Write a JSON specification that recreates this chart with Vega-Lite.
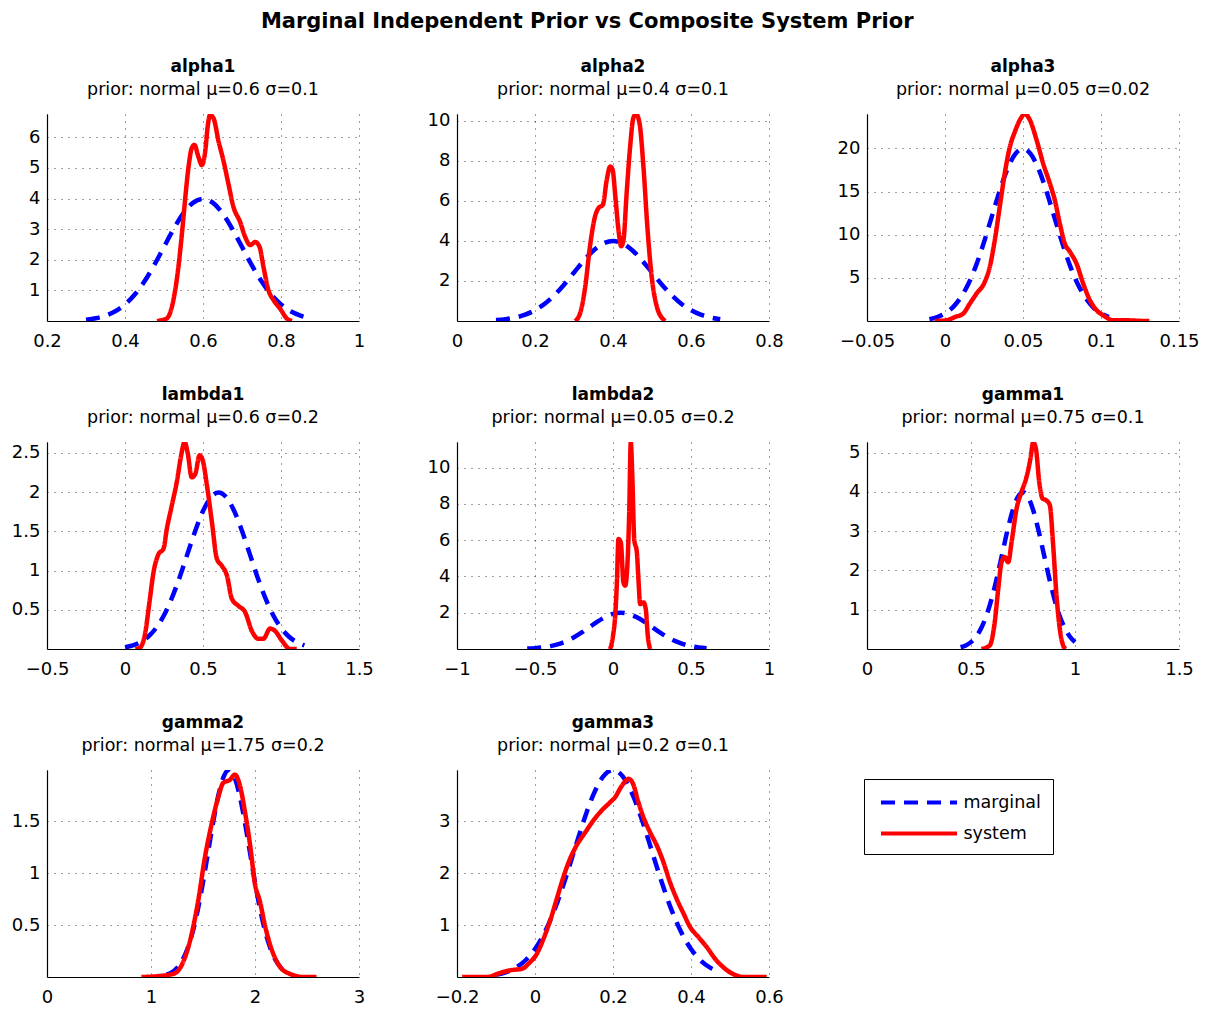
{
  "$schema": "https://vega.github.io/schema/vega-lite/v6.json",
  "padding": {"left": 11, "top": 10, "right": 5, "bottom": 5},
  "background": "white",
  "bounds": "flush",
  "title": {"text": "Marginal Independent Prior vs Composite System Prior", "fontSize": 21, "fontWeight": "bold", "font": "DejaVu Sans", "anchor": "middle", "dx": -18, "offset": 26, "color": "#000"},
  "datasets": {
    "alpha1": [
      {"series": "marginal", "x": 0.3, "y": 0.044}, {"series": "marginal", "x": 0.325, "y": 0.091}, {"series": "marginal", "x": 0.35, "y": 0.175}, {"series": "marginal", "x": 0.375, "y": 0.318}, {"series": "marginal", "x": 0.4, "y": 0.54}, {"series": "marginal", "x": 0.425, "y": 0.863}, {"series": "marginal", "x": 0.45, "y": 1.295}, {"series": "marginal", "x": 0.475, "y": 1.826}, {"series": "marginal", "x": 0.5, "y": 2.42}, {"series": "marginal", "x": 0.525, "y": 3.011}, {"series": "marginal", "x": 0.55, "y": 3.52}, {"series": "marginal", "x": 0.575, "y": 3.866}, {"series": "marginal", "x": 0.6, "y": 3.989}, {"series": "marginal", "x": 0.625, "y": 3.866}, {"series": "marginal", "x": 0.65, "y": 3.52}, {"series": "marginal", "x": 0.675, "y": 3.011}, {"series": "marginal", "x": 0.7, "y": 2.42}, {"series": "marginal", "x": 0.725, "y": 1.826}, {"series": "marginal", "x": 0.75, "y": 1.295}, {"series": "marginal", "x": 0.775, "y": 0.863}, {"series": "marginal", "x": 0.8, "y": 0.54}, {"series": "marginal", "x": 0.825, "y": 0.318}, {"series": "marginal", "x": 0.85, "y": 0.175}, {"series": "marginal", "x": 0.875, "y": 0.091},
      {"series": "system", "x": 0.482, "y": 0}, {"series": "system", "x": 0.507, "y": 0.08}, {"series": "system", "x": 0.524, "y": 0.68}, {"series": "system", "x": 0.537, "y": 1.77}, {"series": "system", "x": 0.546, "y": 2.86}, {"series": "system", "x": 0.554, "y": 3.95}, {"series": "system", "x": 0.563, "y": 5.04}, {"series": "system", "x": 0.571, "y": 5.64}, {"series": "system", "x": 0.578, "y": 5.75}, {"series": "system", "x": 0.588, "y": 5.37}, {"series": "system", "x": 0.597, "y": 5.09}, {"series": "system", "x": 0.606, "y": 5.58}, {"series": "system", "x": 0.612, "y": 6.35}, {"series": "system", "x": 0.618, "y": 6.73}, {"series": "system", "x": 0.627, "y": 6.62}, {"series": "system", "x": 0.64, "y": 5.86}, {"series": "system", "x": 0.652, "y": 5.26}, {"series": "system", "x": 0.665, "y": 4.49}, {"series": "system", "x": 0.678, "y": 3.73}, {"series": "system", "x": 0.695, "y": 3.24}, {"series": "system", "x": 0.708, "y": 2.75}, {"series": "system", "x": 0.721, "y": 2.48}, {"series": "system", "x": 0.734, "y": 2.58}, {"series": "system", "x": 0.745, "y": 2.42}, {"series": "system", "x": 0.755, "y": 1.77}, {"series": "system", "x": 0.768, "y": 1.0}, {"series": "system", "x": 0.781, "y": 0.68}, {"series": "system", "x": 0.798, "y": 0.4}, {"series": "system", "x": 0.815, "y": 0.08}, {"series": "system", "x": 0.828, "y": 0}
    ],
    "alpha2": [
      {"series": "marginal", "x": 0.1, "y": 0.044}, {"series": "marginal", "x": 0.125, "y": 0.091}, {"series": "marginal", "x": 0.15, "y": 0.175}, {"series": "marginal", "x": 0.175, "y": 0.318}, {"series": "marginal", "x": 0.2, "y": 0.54}, {"series": "marginal", "x": 0.225, "y": 0.863}, {"series": "marginal", "x": 0.25, "y": 1.295}, {"series": "marginal", "x": 0.275, "y": 1.826}, {"series": "marginal", "x": 0.3, "y": 2.42}, {"series": "marginal", "x": 0.325, "y": 3.011}, {"series": "marginal", "x": 0.35, "y": 3.52}, {"series": "marginal", "x": 0.375, "y": 3.866}, {"series": "marginal", "x": 0.4, "y": 3.989}, {"series": "marginal", "x": 0.425, "y": 3.866}, {"series": "marginal", "x": 0.45, "y": 3.52}, {"series": "marginal", "x": 0.475, "y": 3.011}, {"series": "marginal", "x": 0.5, "y": 2.42}, {"series": "marginal", "x": 0.525, "y": 1.826}, {"series": "marginal", "x": 0.55, "y": 1.295}, {"series": "marginal", "x": 0.575, "y": 0.863}, {"series": "marginal", "x": 0.6, "y": 0.54}, {"series": "marginal", "x": 0.625, "y": 0.318}, {"series": "marginal", "x": 0.65, "y": 0.175}, {"series": "marginal", "x": 0.675, "y": 0.091},
      {"series": "system", "x": 0.303, "y": 0}, {"series": "system", "x": 0.316, "y": 0.41}, {"series": "system", "x": 0.329, "y": 1.74}, {"series": "system", "x": 0.341, "y": 3.73}, {"series": "system", "x": 0.354, "y": 5.22}, {"series": "system", "x": 0.363, "y": 5.64}, {"series": "system", "x": 0.374, "y": 5.8}, {"series": "system", "x": 0.384, "y": 7.05}, {"series": "system", "x": 0.393, "y": 7.71}, {"series": "system", "x": 0.399, "y": 7.55}, {"series": "system", "x": 0.406, "y": 6.22}, {"series": "system", "x": 0.414, "y": 4.56}, {"series": "system", "x": 0.421, "y": 3.73}, {"series": "system", "x": 0.427, "y": 4.06}, {"series": "system", "x": 0.435, "y": 6.38}, {"series": "system", "x": 0.444, "y": 8.71}, {"series": "system", "x": 0.452, "y": 10.12}, {"series": "system", "x": 0.459, "y": 10.33}, {"series": "system", "x": 0.468, "y": 9.87}, {"series": "system", "x": 0.478, "y": 7.71}, {"series": "system", "x": 0.488, "y": 4.73}, {"series": "system", "x": 0.499, "y": 2.24}, {"series": "system", "x": 0.512, "y": 0.75}, {"series": "system", "x": 0.529, "y": 0.08}, {"series": "system", "x": 0.534, "y": 0}
    ],
    "alpha3": [
      {"series": "marginal", "x": -0.01, "y": 0.221}, {"series": "marginal", "x": -0.005, "y": 0.455}, {"series": "marginal", "x": 0, "y": 0.876}, {"series": "marginal", "x": 0.005, "y": 1.588}, {"series": "marginal", "x": 0.01, "y": 2.699}, {"series": "marginal", "x": 0.015, "y": 4.315}, {"series": "marginal", "x": 0.02, "y": 6.477}, {"series": "marginal", "x": 0.025, "y": 9.132}, {"series": "marginal", "x": 0.03, "y": 12.098}, {"series": "marginal", "x": 0.035, "y": 15.056}, {"series": "marginal", "x": 0.04, "y": 17.603}, {"series": "marginal", "x": 0.045, "y": 19.333}, {"series": "marginal", "x": 0.05, "y": 19.947}, {"series": "marginal", "x": 0.055, "y": 19.333}, {"series": "marginal", "x": 0.06, "y": 17.603}, {"series": "marginal", "x": 0.065, "y": 15.056}, {"series": "marginal", "x": 0.07, "y": 12.098}, {"series": "marginal", "x": 0.075, "y": 9.132}, {"series": "marginal", "x": 0.08, "y": 6.477}, {"series": "marginal", "x": 0.085, "y": 4.315}, {"series": "marginal", "x": 0.09, "y": 2.699}, {"series": "marginal", "x": 0.095, "y": 1.588}, {"series": "marginal", "x": 0.1, "y": 0.876}, {"series": "marginal", "x": 0.105, "y": 0.455},
      {"series": "system", "x": -0.0066, "y": 0}, {"series": "system", "x": 0.0009, "y": 0.08}, {"series": "system", "x": 0.0063, "y": 0.46}, {"series": "system", "x": 0.0116, "y": 0.85}, {"series": "system", "x": 0.0159, "y": 2.01}, {"series": "system", "x": 0.0202, "y": 3.17}, {"series": "system", "x": 0.0255, "y": 4.53}, {"series": "system", "x": 0.0287, "y": 6.27}, {"series": "system", "x": 0.0319, "y": 9.36}, {"series": "system", "x": 0.0351, "y": 13.23}, {"series": "system", "x": 0.0383, "y": 17.1}, {"series": "system", "x": 0.0416, "y": 20.19}, {"series": "system", "x": 0.0448, "y": 21.93}, {"series": "system", "x": 0.048, "y": 23.29}, {"series": "system", "x": 0.0512, "y": 23.98}, {"series": "system", "x": 0.0544, "y": 23.29}, {"series": "system", "x": 0.0587, "y": 20.97}, {"series": "system", "x": 0.0629, "y": 18.26}, {"series": "system", "x": 0.0672, "y": 15.94}, {"series": "system", "x": 0.0704, "y": 14.0}, {"series": "system", "x": 0.0736, "y": 11.3}, {"series": "system", "x": 0.0768, "y": 8.97}, {"series": "system", "x": 0.0801, "y": 8.01}, {"series": "system", "x": 0.0843, "y": 6.65}, {"series": "system", "x": 0.0886, "y": 4.33}, {"series": "system", "x": 0.0929, "y": 2.4}, {"series": "system", "x": 0.0972, "y": 1.24}, {"series": "system", "x": 0.1014, "y": 0.66}, {"series": "system", "x": 0.1079, "y": 0.08}, {"series": "system", "x": 0.1164, "y": 0.08}, {"series": "system", "x": 0.125, "y": 0.02}, {"series": "system", "x": 0.131, "y": 0}
    ],
    "lambda1": [
      {"series": "marginal", "x": 0, "y": 0.022}, {"series": "marginal", "x": 0.05, "y": 0.045}, {"series": "marginal", "x": 0.1, "y": 0.088}, {"series": "marginal", "x": 0.15, "y": 0.159}, {"series": "marginal", "x": 0.2, "y": 0.27}, {"series": "marginal", "x": 0.25, "y": 0.431}, {"series": "marginal", "x": 0.3, "y": 0.648}, {"series": "marginal", "x": 0.35, "y": 0.913}, {"series": "marginal", "x": 0.4, "y": 1.21}, {"series": "marginal", "x": 0.45, "y": 1.506}, {"series": "marginal", "x": 0.5, "y": 1.76}, {"series": "marginal", "x": 0.55, "y": 1.933}, {"series": "marginal", "x": 0.6, "y": 1.995}, {"series": "marginal", "x": 0.65, "y": 1.933}, {"series": "marginal", "x": 0.7, "y": 1.76}, {"series": "marginal", "x": 0.75, "y": 1.506}, {"series": "marginal", "x": 0.8, "y": 1.21}, {"series": "marginal", "x": 0.85, "y": 0.913}, {"series": "marginal", "x": 0.9, "y": 0.648}, {"series": "marginal", "x": 0.95, "y": 0.431}, {"series": "marginal", "x": 1.0, "y": 0.27}, {"series": "marginal", "x": 1.05, "y": 0.159}, {"series": "marginal", "x": 1.1, "y": 0.088}, {"series": "marginal", "x": 1.15, "y": 0.045},
      {"series": "system", "x": 0.066, "y": 0}, {"series": "system", "x": 0.098, "y": 0.02}, {"series": "system", "x": 0.13, "y": 0.21}, {"series": "system", "x": 0.157, "y": 0.6}, {"series": "system", "x": 0.183, "y": 0.98}, {"series": "system", "x": 0.215, "y": 1.21}, {"series": "system", "x": 0.247, "y": 1.28}, {"series": "system", "x": 0.268, "y": 1.53}, {"series": "system", "x": 0.3, "y": 1.83}, {"series": "system", "x": 0.332, "y": 2.13}, {"series": "system", "x": 0.36, "y": 2.47}, {"series": "system", "x": 0.382, "y": 2.64}, {"series": "system", "x": 0.401, "y": 2.51}, {"series": "system", "x": 0.428, "y": 2.19}, {"series": "system", "x": 0.45, "y": 2.23}, {"series": "system", "x": 0.478, "y": 2.47}, {"series": "system", "x": 0.499, "y": 2.4}, {"series": "system", "x": 0.525, "y": 2.09}, {"series": "system", "x": 0.557, "y": 1.62}, {"series": "system", "x": 0.589, "y": 1.15}, {"series": "system", "x": 0.621, "y": 1.06}, {"series": "system", "x": 0.653, "y": 0.94}, {"series": "system", "x": 0.685, "y": 0.64}, {"series": "system", "x": 0.727, "y": 0.55}, {"series": "system", "x": 0.77, "y": 0.47}, {"series": "system", "x": 0.813, "y": 0.23}, {"series": "system", "x": 0.855, "y": 0.13}, {"series": "system", "x": 0.887, "y": 0.13}, {"series": "system", "x": 0.93, "y": 0.26}, {"series": "system", "x": 0.962, "y": 0.23}, {"series": "system", "x": 1.005, "y": 0.11}, {"series": "system", "x": 1.058, "y": 0}, {"series": "system", "x": 1.101, "y": 0}
    ],
    "lambda2": [
      {"series": "marginal", "x": -0.55, "y": 0.022}, {"series": "marginal", "x": -0.5, "y": 0.045}, {"series": "marginal", "x": -0.45, "y": 0.088}, {"series": "marginal", "x": -0.4, "y": 0.159}, {"series": "marginal", "x": -0.35, "y": 0.27}, {"series": "marginal", "x": -0.3, "y": 0.431}, {"series": "marginal", "x": -0.25, "y": 0.648}, {"series": "marginal", "x": -0.2, "y": 0.913}, {"series": "marginal", "x": -0.15, "y": 1.21}, {"series": "marginal", "x": -0.1, "y": 1.506}, {"series": "marginal", "x": -0.05, "y": 1.76}, {"series": "marginal", "x": 0, "y": 1.933}, {"series": "marginal", "x": 0.05, "y": 1.995}, {"series": "marginal", "x": 0.1, "y": 1.933}, {"series": "marginal", "x": 0.15, "y": 1.76}, {"series": "marginal", "x": 0.2, "y": 1.506}, {"series": "marginal", "x": 0.25, "y": 1.21}, {"series": "marginal", "x": 0.3, "y": 0.913}, {"series": "marginal", "x": 0.35, "y": 0.648}, {"series": "marginal", "x": 0.4, "y": 0.431}, {"series": "marginal", "x": 0.45, "y": 0.27}, {"series": "marginal", "x": 0.5, "y": 0.159}, {"series": "marginal", "x": 0.55, "y": 0.088}, {"series": "marginal", "x": 0.6, "y": 0.045},
      {"series": "system", "x": -0.018, "y": 0}, {"series": "system", "x": 0.0, "y": 0.73}, {"series": "system", "x": 0.014, "y": 1.83}, {"series": "system", "x": 0.025, "y": 3.67}, {"series": "system", "x": 0.035, "y": 6.06}, {"series": "system", "x": 0.05, "y": 5.87}, {"series": "system", "x": 0.067, "y": 3.67}, {"series": "system", "x": 0.078, "y": 3.49}, {"series": "system", "x": 0.093, "y": 4.77}, {"series": "system", "x": 0.104, "y": 7.53}, {"series": "system", "x": 0.114, "y": 11.41}, {"series": "system", "x": 0.125, "y": 9.17}, {"series": "system", "x": 0.136, "y": 6.06}, {"series": "system", "x": 0.153, "y": 5.32}, {"series": "system", "x": 0.163, "y": 3.85}, {"series": "system", "x": 0.174, "y": 2.48}, {"series": "system", "x": 0.195, "y": 2.57}, {"series": "system", "x": 0.21, "y": 2.2}, {"series": "system", "x": 0.223, "y": 0.73}, {"series": "system", "x": 0.238, "y": 0}
    ],
    "gamma1": [
      {"series": "marginal", "x": 0.45, "y": 0.044}, {"series": "marginal", "x": 0.475, "y": 0.091}, {"series": "marginal", "x": 0.5, "y": 0.175}, {"series": "marginal", "x": 0.525, "y": 0.318}, {"series": "marginal", "x": 0.55, "y": 0.54}, {"series": "marginal", "x": 0.575, "y": 0.863}, {"series": "marginal", "x": 0.6, "y": 1.295}, {"series": "marginal", "x": 0.625, "y": 1.826}, {"series": "marginal", "x": 0.65, "y": 2.42}, {"series": "marginal", "x": 0.675, "y": 3.011}, {"series": "marginal", "x": 0.7, "y": 3.52}, {"series": "marginal", "x": 0.725, "y": 3.866}, {"series": "marginal", "x": 0.75, "y": 3.989}, {"series": "marginal", "x": 0.775, "y": 3.866}, {"series": "marginal", "x": 0.8, "y": 3.52}, {"series": "marginal", "x": 0.825, "y": 3.011}, {"series": "marginal", "x": 0.85, "y": 2.42}, {"series": "marginal", "x": 0.875, "y": 1.826}, {"series": "marginal", "x": 0.9, "y": 1.295}, {"series": "marginal", "x": 0.925, "y": 0.863}, {"series": "marginal", "x": 0.95, "y": 0.54}, {"series": "marginal", "x": 0.975, "y": 0.318}, {"series": "marginal", "x": 1.0, "y": 0.175},
      {"series": "system", "x": 0.55, "y": 0}, {"series": "system", "x": 0.59, "y": 0.09}, {"series": "system", "x": 0.614, "y": 0.68}, {"series": "system", "x": 0.631, "y": 1.53}, {"series": "system", "x": 0.647, "y": 2.21}, {"series": "system", "x": 0.663, "y": 2.34}, {"series": "system", "x": 0.679, "y": 2.21}, {"series": "system", "x": 0.695, "y": 2.72}, {"series": "system", "x": 0.719, "y": 3.57}, {"series": "system", "x": 0.743, "y": 4.0}, {"series": "system", "x": 0.767, "y": 4.38}, {"series": "system", "x": 0.786, "y": 4.85}, {"series": "system", "x": 0.799, "y": 5.26}, {"series": "system", "x": 0.812, "y": 5.1}, {"series": "system", "x": 0.828, "y": 4.25}, {"series": "system", "x": 0.844, "y": 3.83}, {"series": "system", "x": 0.863, "y": 3.78}, {"series": "system", "x": 0.879, "y": 3.66}, {"series": "system", "x": 0.895, "y": 2.64}, {"series": "system", "x": 0.911, "y": 1.36}, {"series": "system", "x": 0.927, "y": 0.51}, {"series": "system", "x": 0.943, "y": 0.09}, {"series": "system", "x": 0.956, "y": 0}
    ],
    "gamma2": [
      {"series": "marginal", "x": 1.15, "y": 0.022}, {"series": "marginal", "x": 1.2, "y": 0.045}, {"series": "marginal", "x": 1.25, "y": 0.088}, {"series": "marginal", "x": 1.3, "y": 0.159}, {"series": "marginal", "x": 1.35, "y": 0.27}, {"series": "marginal", "x": 1.4, "y": 0.431}, {"series": "marginal", "x": 1.45, "y": 0.648}, {"series": "marginal", "x": 1.5, "y": 0.913}, {"series": "marginal", "x": 1.55, "y": 1.21}, {"series": "marginal", "x": 1.6, "y": 1.506}, {"series": "marginal", "x": 1.65, "y": 1.76}, {"series": "marginal", "x": 1.7, "y": 1.933}, {"series": "marginal", "x": 1.75, "y": 1.995}, {"series": "marginal", "x": 1.8, "y": 1.933}, {"series": "marginal", "x": 1.85, "y": 1.76}, {"series": "marginal", "x": 1.9, "y": 1.506}, {"series": "marginal", "x": 1.95, "y": 1.21}, {"series": "marginal", "x": 2.0, "y": 0.913}, {"series": "marginal", "x": 2.05, "y": 0.648}, {"series": "marginal", "x": 2.1, "y": 0.431}, {"series": "marginal", "x": 2.15, "y": 0.27}, {"series": "marginal", "x": 2.2, "y": 0.159}, {"series": "marginal", "x": 2.25, "y": 0.088}, {"series": "marginal", "x": 2.3, "y": 0.045},
      {"series": "system", "x": 0.908, "y": 0}, {"series": "system", "x": 1.084, "y": 0.01}, {"series": "system", "x": 1.213, "y": 0.03}, {"series": "system", "x": 1.293, "y": 0.11}, {"series": "system", "x": 1.373, "y": 0.34}, {"series": "system", "x": 1.453, "y": 0.73}, {"series": "system", "x": 1.518, "y": 1.15}, {"series": "system", "x": 1.582, "y": 1.47}, {"series": "system", "x": 1.646, "y": 1.73}, {"series": "system", "x": 1.694, "y": 1.87}, {"series": "system", "x": 1.758, "y": 1.9}, {"series": "system", "x": 1.806, "y": 1.95}, {"series": "system", "x": 1.854, "y": 1.85}, {"series": "system", "x": 1.902, "y": 1.6}, {"series": "system", "x": 1.957, "y": 1.24}, {"series": "system", "x": 1.999, "y": 0.9}, {"series": "system", "x": 2.047, "y": 0.73}, {"series": "system", "x": 2.095, "y": 0.5}, {"series": "system", "x": 2.159, "y": 0.27}, {"series": "system", "x": 2.239, "y": 0.1}, {"series": "system", "x": 2.336, "y": 0.03}, {"series": "system", "x": 2.464, "y": 0}, {"series": "system", "x": 2.592, "y": 0}
    ],
    "gamma3": [
      {"series": "marginal", "x": -0.1, "y": 0.044}, {"series": "marginal", "x": -0.075, "y": 0.091}, {"series": "marginal", "x": -0.05, "y": 0.175}, {"series": "marginal", "x": -0.025, "y": 0.318}, {"series": "marginal", "x": 0, "y": 0.54}, {"series": "marginal", "x": 0.025, "y": 0.863}, {"series": "marginal", "x": 0.05, "y": 1.295}, {"series": "marginal", "x": 0.075, "y": 1.826}, {"series": "marginal", "x": 0.1, "y": 2.42}, {"series": "marginal", "x": 0.125, "y": 3.011}, {"series": "marginal", "x": 0.15, "y": 3.52}, {"series": "marginal", "x": 0.175, "y": 3.866}, {"series": "marginal", "x": 0.2, "y": 3.989}, {"series": "marginal", "x": 0.225, "y": 3.866}, {"series": "marginal", "x": 0.25, "y": 3.52}, {"series": "marginal", "x": 0.275, "y": 3.011}, {"series": "marginal", "x": 0.3, "y": 2.42}, {"series": "marginal", "x": 0.325, "y": 1.826}, {"series": "marginal", "x": 0.35, "y": 1.295}, {"series": "marginal", "x": 0.375, "y": 0.863}, {"series": "marginal", "x": 0.4, "y": 0.54}, {"series": "marginal", "x": 0.425, "y": 0.318}, {"series": "marginal", "x": 0.45, "y": 0.175}, {"series": "marginal", "x": 0.475, "y": 0.091},
      {"series": "system", "x": -0.187, "y": 0}, {"series": "system", "x": -0.123, "y": 0}, {"series": "system", "x": -0.089, "y": 0.08}, {"series": "system", "x": -0.063, "y": 0.13}, {"series": "system", "x": -0.033, "y": 0.16}, {"series": "system", "x": -0.016, "y": 0.26}, {"series": "system", "x": 0.005, "y": 0.45}, {"series": "system", "x": 0.022, "y": 0.74}, {"series": "system", "x": 0.039, "y": 1.09}, {"series": "system", "x": 0.056, "y": 1.51}, {"series": "system", "x": 0.073, "y": 1.93}, {"series": "system", "x": 0.09, "y": 2.28}, {"series": "system", "x": 0.107, "y": 2.54}, {"series": "system", "x": 0.129, "y": 2.79}, {"series": "system", "x": 0.15, "y": 3.02}, {"series": "system", "x": 0.171, "y": 3.21}, {"series": "system", "x": 0.193, "y": 3.37}, {"series": "system", "x": 0.206, "y": 3.47}, {"series": "system", "x": 0.218, "y": 3.63}, {"series": "system", "x": 0.231, "y": 3.77}, {"series": "system", "x": 0.24, "y": 3.82}, {"series": "system", "x": 0.251, "y": 3.73}, {"series": "system", "x": 0.265, "y": 3.37}, {"series": "system", "x": 0.278, "y": 3.08}, {"series": "system", "x": 0.295, "y": 2.79}, {"series": "system", "x": 0.312, "y": 2.54}, {"series": "system", "x": 0.329, "y": 2.22}, {"series": "system", "x": 0.346, "y": 1.83}, {"series": "system", "x": 0.363, "y": 1.51}, {"series": "system", "x": 0.381, "y": 1.22}, {"series": "system", "x": 0.398, "y": 0.96}, {"series": "system", "x": 0.419, "y": 0.77}, {"series": "system", "x": 0.44, "y": 0.58}, {"series": "system", "x": 0.462, "y": 0.35}, {"series": "system", "x": 0.487, "y": 0.16}, {"series": "system", "x": 0.513, "y": 0.04}, {"series": "system", "x": 0.534, "y": 0}, {"series": "system", "x": 0.594, "y": 0}
    ]
  },
  "columns": 3,
  "spacing": {"row": 121, "column": 98},
  "concat": [
    {
      "width": 312, "height": 207,
      "title": {"text": "alpha1", "subtitle": "prior: normal μ=0.6 σ=0.1"},
      "data": {"name": "alpha1"},
      "mark": {"type": "line", "strokeWidth": 4.5, "interpolate": "monotone", "clip": true},
      "encoding": {
        "x": {"field": "x", "type": "quantitative", "scale": {"domain": [0.2, 1], "nice": false, "zero": false}, "axis": {"values": [0.2, 0.4, 0.6, 0.8, 1], "title": null}},
        "y": {"field": "y", "type": "quantitative", "scale": {"domain": [0, 6.76], "nice": false}, "axis": {"values": [1, 2, 3, 4, 5, 6], "title": null}},
        "color": {"field": "series", "type": "nominal", "scale": {"domain": ["marginal", "system"], "range": ["#0000ff", "#ff0000"]}, "legend": {"title": null}},
        "strokeDash": {"field": "series", "type": "nominal", "scale": {"domain": ["marginal", "system"], "range": [[14, 9], [1, 0]]}, "legend": {"title": null}}
      }
    },
    {
      "width": 312, "height": 207,
      "title": {"text": "alpha2", "subtitle": "prior: normal μ=0.4 σ=0.1", "offset": 12},
      "data": {"name": "alpha2"},
      "mark": {"type": "line", "strokeWidth": 4.5, "interpolate": "monotone", "clip": true},
      "encoding": {
        "x": {"field": "x", "type": "quantitative", "scale": {"domain": [0, 0.8], "nice": false, "zero": false}, "axis": {"values": [0, 0.2, 0.4, 0.6, 0.8], "title": null}},
        "y": {"field": "y", "type": "quantitative", "scale": {"domain": [0, 10.33], "nice": false}, "axis": {"values": [2, 4, 6, 8, 10], "title": null}},
        "color": {"field": "series", "type": "nominal", "scale": {"domain": ["marginal", "system"], "range": ["#0000ff", "#ff0000"]}, "legend": {"title": null}},
        "strokeDash": {"field": "series", "type": "nominal", "scale": {"domain": ["marginal", "system"], "range": [[14, 9], [1, 0]]}, "legend": {"title": null}}
      }
    },
    {
      "width": 312, "height": 207,
      "title": {"text": "alpha3", "subtitle": "prior: normal μ=0.05 σ=0.02"},
      "data": {"name": "alpha3"},
      "mark": {"type": "line", "strokeWidth": 4.5, "interpolate": "monotone", "clip": true},
      "encoding": {
        "x": {"field": "x", "type": "quantitative", "scale": {"domain": [-0.05, 0.15], "nice": false, "zero": false}, "axis": {"values": [-0.05, 0, 0.05, 0.1, 0.15], "title": null}},
        "y": {"field": "y", "type": "quantitative", "scale": {"domain": [0, 23.98], "nice": false}, "axis": {"values": [5, 10, 15, 20], "title": null}},
        "color": {"field": "series", "type": "nominal", "scale": {"domain": ["marginal", "system"], "range": ["#0000ff", "#ff0000"]}, "legend": {"title": null}},
        "strokeDash": {"field": "series", "type": "nominal", "scale": {"domain": ["marginal", "system"], "range": [[14, 9], [1, 0]]}, "legend": {"title": null}}
      }
    },
    {
      "width": 312, "height": 207,
      "title": {"text": "lambda1", "subtitle": "prior: normal μ=0.6 σ=0.2"},
      "data": {"name": "lambda1"},
      "mark": {"type": "line", "strokeWidth": 4.5, "interpolate": "monotone", "clip": true},
      "encoding": {
        "x": {"field": "x", "type": "quantitative", "scale": {"domain": [-0.5, 1.5], "nice": false, "zero": false}, "axis": {"values": [-0.5, 0, 0.5, 1, 1.5], "title": null}},
        "y": {"field": "y", "type": "quantitative", "scale": {"domain": [0, 2.64], "nice": false}, "axis": {"values": [0.5, 1, 1.5, 2, 2.5], "title": null}},
        "color": {"field": "series", "type": "nominal", "scale": {"domain": ["marginal", "system"], "range": ["#0000ff", "#ff0000"]}, "legend": {"title": null}},
        "strokeDash": {"field": "series", "type": "nominal", "scale": {"domain": ["marginal", "system"], "range": [[14, 9], [1, 0]]}, "legend": {"title": null}}
      }
    },
    {
      "width": 312, "height": 207,
      "title": {"text": "lambda2", "subtitle": "prior: normal μ=0.05 σ=0.2"},
      "data": {"name": "lambda2"},
      "mark": {"type": "line", "strokeWidth": 4.5, "interpolate": "monotone", "clip": true},
      "encoding": {
        "x": {"field": "x", "type": "quantitative", "scale": {"domain": [-1, 1], "nice": false, "zero": false}, "axis": {"values": [-1, -0.5, 0, 0.5, 1], "title": null}},
        "y": {"field": "y", "type": "quantitative", "scale": {"domain": [0, 11.41], "nice": false}, "axis": {"values": [2, 4, 6, 8, 10], "title": null}},
        "color": {"field": "series", "type": "nominal", "scale": {"domain": ["marginal", "system"], "range": ["#0000ff", "#ff0000"]}, "legend": {"title": null}},
        "strokeDash": {"field": "series", "type": "nominal", "scale": {"domain": ["marginal", "system"], "range": [[14, 9], [1, 0]]}, "legend": {"title": null}}
      }
    },
    {
      "width": 312, "height": 207,
      "title": {"text": "gamma1", "subtitle": "prior: normal μ=0.75 σ=0.1"},
      "data": {"name": "gamma1"},
      "mark": {"type": "line", "strokeWidth": 4.5, "interpolate": "monotone", "clip": true},
      "encoding": {
        "x": {"field": "x", "type": "quantitative", "scale": {"domain": [0, 1.5], "nice": false, "zero": false}, "axis": {"values": [0, 0.5, 1, 1.5], "title": null}},
        "y": {"field": "y", "type": "quantitative", "scale": {"domain": [0, 5.27], "nice": false}, "axis": {"values": [1, 2, 3, 4, 5], "title": null}},
        "color": {"field": "series", "type": "nominal", "scale": {"domain": ["marginal", "system"], "range": ["#0000ff", "#ff0000"]}, "legend": {"title": null}},
        "strokeDash": {"field": "series", "type": "nominal", "scale": {"domain": ["marginal", "system"], "range": [[14, 9], [1, 0]]}, "legend": {"title": null}}
      }
    },
    {
      "width": 312, "height": 207,
      "title": {"text": "gamma2", "subtitle": "prior: normal μ=1.75 σ=0.2"},
      "data": {"name": "gamma2"},
      "mark": {"type": "line", "strokeWidth": 4.5, "interpolate": "monotone", "clip": true},
      "encoding": {
        "x": {"field": "x", "type": "quantitative", "scale": {"domain": [0, 3], "nice": false, "zero": false}, "axis": {"values": [0, 1, 2, 3], "title": null}},
        "y": {"field": "y", "type": "quantitative", "scale": {"domain": [0, 1.995], "nice": false}, "axis": {"values": [0.5, 1, 1.5], "title": null}},
        "color": {"field": "series", "type": "nominal", "scale": {"domain": ["marginal", "system"], "range": ["#0000ff", "#ff0000"]}, "legend": {"title": null}},
        "strokeDash": {"field": "series", "type": "nominal", "scale": {"domain": ["marginal", "system"], "range": [[14, 9], [1, 0]]}, "legend": {"title": null}}
      }
    },
    {
      "width": 312, "height": 207,
      "title": {"text": "gamma3", "subtitle": "prior: normal μ=0.2 σ=0.1"},
      "data": {"name": "gamma3"},
      "mark": {"type": "line", "strokeWidth": 4.5, "interpolate": "monotone", "clip": true},
      "encoding": {
        "x": {"field": "x", "type": "quantitative", "scale": {"domain": [-0.2, 0.6], "nice": false, "zero": false}, "axis": {"values": [-0.2, 0, 0.2, 0.4, 0.6], "title": null}},
        "y": {"field": "y", "type": "quantitative", "scale": {"domain": [0, 3.99], "nice": false}, "axis": {"values": [1, 2, 3], "title": null}},
        "color": {"field": "series", "type": "nominal", "scale": {"domain": ["marginal", "system"], "range": ["#0000ff", "#ff0000"]}, "legend": {"title": null}},
        "strokeDash": {"field": "series", "type": "nominal", "scale": {"domain": ["marginal", "system"], "range": [[14, 9], [1, 0]]}, "legend": {"title": null}}
      }
    }
  ],
  "config": {
    "font": "DejaVu Sans",
    "view": {"stroke": null},
    "axis": {"grid": true, "gridDash": [1, 6], "gridColor": "#000", "gridOpacity": 0.75, "gridWidth": 1, "ticks": false, "domainColor": "#000", "domainWidth": 1.2, "labelFontSize": 18, "labelColor": "#000", "labelFont": "DejaVu Sans", "labelFlush": false, "labelOverlap": false, "format": "~f"},
    "axisX": {"labelPadding": 11},
    "axisY": {"labelPadding": 7},
    "title": {"fontSize": 17, "subtitleFontSize": 17.5, "fontWeight": "bold", "color": "#000", "subtitleColor": "#000", "subtitleFont": "DejaVu Sans", "font": "DejaVu Sans", "offset": 15, "subtitlePadding": 5},
    "legend": {"orient": "none", "legendX": 817, "legendY": 665, "strokeColor": "#000", "fillColor": "#fff", "padding": 12, "labelFontSize": 17.5, "labelColor": "#000", "labelFont": "DejaVu Sans", "labelOffset": 33, "symbolType": "M-4,0H4", "symbolSize": 361, "symbolOffset": 31.5, "symbolStrokeWidth": 4, "rowPadding": 11}
  }
}
